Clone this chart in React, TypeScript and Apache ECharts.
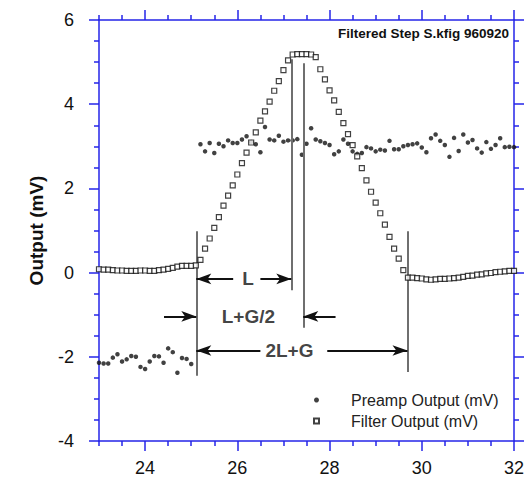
import React, { useEffect, useRef } from "react";
import * as echarts from "echarts";

// Sample times (µs)
const time = [
  23.0, 23.1, 23.2, 23.3, 23.4, 23.5, 23.6, 23.7, 23.8, 23.9,
  24.0, 24.1, 24.2, 24.3, 24.4, 24.5, 24.6, 24.7, 24.8, 24.9,
  25.0, 25.1, 25.2, 25.3, 25.4, 25.5, 25.6, 25.7, 25.8, 25.9,
  26.0, 26.1, 26.2, 26.3, 26.4, 26.5, 26.6, 26.7, 26.8, 26.9,
  27.0, 27.1, 27.2, 27.3, 27.4, 27.5, 27.6, 27.7, 27.8, 27.9,
  28.0, 28.1, 28.2, 28.3, 28.4, 28.5, 28.6, 28.7, 28.8, 28.9,
  29.0, 29.1, 29.2, 29.3, 29.4, 29.5, 29.6, 29.7, 29.8, 29.9,
  30.0, 30.1, 30.2, 30.3, 30.4, 30.5, 30.6, 30.7, 30.8, 30.9,
  31.0, 31.1, 31.2, 31.3, 31.4, 31.5, 31.6, 31.7, 31.8, 31.9,
  32.0,
];

const preampOutput: (number | null)[] = [
  -2.14, -2.16, -2.16, -2.02, -1.94, -2.11, -2.06, -1.98, -2.0, -2.24,
  -2.29, -2.11, -1.98, -1.99, -2.14, -1.8, -1.89, -2.38, -2.03, -2.05,
  -2.17, null, 3.05, 2.88, 3.08, 2.84, 3.06, 3.0, 3.14, 3.08,
  3.08, 3.16, 3.24, 3.1, 3.05, 2.86, 3.46, 3.16, 3.14, 3.25,
  3.11, 3.14, 3.14, 3.17, 2.8, 3.06, 3.43, 3.16, 3.12, 3.08,
  3.03, 2.81, 2.88, 3.16, 3.06, 2.88, 2.82, 2.84, 2.98, 2.95,
  2.88, 2.92, 2.9, 3.13, 2.93, 2.93, 3.0, 3.03, 3.05, 3.07,
  2.97, 2.86, 3.19, 3.28, 3.13, 3.03, 2.75, 3.2, 2.89, 3.28,
  3.09, 3.15, 2.95, 2.85, 3.1, 2.94, 3.03, 3.19, 2.98, 2.99,
  2.98,
];

const filterOutput = [
  0.08, 0.07, 0.07, 0.06, 0.05, 0.05, 0.04, 0.04, 0.04, 0.05,
  0.05, 0.04, 0.04, 0.06, 0.07, 0.09, 0.11, 0.14, 0.16, 0.16,
  0.16, 0.17, 0.3, 0.57, 0.81, 1.06, 1.32, 1.59, 1.83, 2.07,
  2.33, 2.6, 2.85, 3.09, 3.33, 3.61, 3.83, 4.06, 4.32, 4.55,
  4.81, 5.04, 5.18, 5.19, 5.19, 5.19, 5.18, 5.12, 4.83, 4.59,
  4.33, 4.09, 3.82, 3.55, 3.29, 3.03, 2.76, 2.48, 2.19, 1.92,
  1.66, 1.41, 1.14, 0.85, 0.57, 0.33, 0.06, -0.12, -0.12, -0.13,
  -0.14, -0.16, -0.17, -0.16, -0.15, -0.15, -0.14, -0.13, -0.12, -0.1,
  -0.08, -0.07, -0.05, -0.04, -0.02, -0.01, 0.01, 0.02, 0.03, 0.04,
  0.04,
];

const seriesNames = ["Preamp Output (mV)", "Filter Output (mV)"];
const titleText = "Filtered Step S.kfig 960920";
const yAxisTitle = "Output (mV)";

const xMajorTicks = [24, 26, 28, 30, 32];
const xMinorTicks = [23, 23.5, 24.5, 25, 25.5, 26.5, 27, 27.5, 28.5, 29, 29.5, 30.5, 31, 31.5];

// Vertical guide lines
const guideX = [25.11, 27.17, 27.43, 29.69];
const guideTop = [0.98, 5.07, 4.97, 0.98];
const guideBottom = [-2.45, -0.42, -1.31, -2.36];

// Dimension arrows
const arrowFromX = [25.91, 26.5, 24.41, 28.13, 26.5, 27.95];
const arrowToX = [25.11, 27.17, 25.11, 27.43, 25.11, 29.69];
const arrowY = [-0.15, -0.15, -1.04, -1.04, -1.85, -1.85];

// Dimension labels
const dimLabels = ["L", "L+G/2", "2L+G"];
const dimLabelX = [26.23, 26.24, 27.13];
const dimLabelY = [-0.15, -1.04, -1.85];

const AXIS_BLUE = "#2424e8";
const FONT = "'Liberation Sans', Arial, Helvetica, sans-serif";

export default function App() {
  const ref = useRef<HTMLDivElement>(null);

  useEffect(() => {
    document.body.style.margin = "0";
    const chart = echarts.init(ref.current!, null, { renderer: "svg" });

    const preampData = time
      .map((t, i) => [t, preampOutput[i]])
      .filter((d) => d[1] !== null);
    const filterData = time.map((t, i) => [t, filterOutput[i]]);

    const baseX = {
      type: "value",
      min: 23,
      max: 32,
      gridIndex: 0,
      splitLine: { show: false },
    };

    const option: any = {
      animation: false,
      backgroundColor: "#ffffff",
      textStyle: { fontFamily: FONT },
      title: {
        text: titleText,
        right: 14,
        top: 21,
        textStyle: { fontFamily: FONT, fontSize: 13.5, fontWeight: "bold", color: "#111" },
      },
      grid: { left: 99, right: 14, top: 20, bottom: 35, containLabel: false },
      legend: {
        data: seriesNames,
        orient: "vertical",
        left: 308,
        top: 387,
        itemWidth: 5,
        itemHeight: 5,
        itemGap: 5,
        selectedMode: false,
        textStyle: {
          fontFamily: FONT,
          fontSize: 16,
          lineHeight: 16,
          color: "#222",
          padding: [0, 0, 0, 27],
        },
      },
      xAxis: [
        {
          ...baseX,
          position: "bottom",
          axisLine: { show: true, onZero: false, lineStyle: { color: AXIS_BLUE, width: 1.5 } },
          axisTick: { show: true, customValues: xMajorTicks, length: 10, lineStyle: { color: AXIS_BLUE, width: 1.5 } },
          axisLabel: { show: true, customValues: xMajorTicks, fontSize: 18, color: "#111", margin: 18, fontFamily: FONT },
        },
        {
          ...baseX,
          position: "top",
          axisLine: { show: true, onZero: false, lineStyle: { color: AXIS_BLUE, width: 1.5 } },
          axisTick: { show: true, customValues: xMajorTicks, length: 10, lineStyle: { color: AXIS_BLUE, width: 1.5 } },
          axisLabel: { show: false },
        },
        {
          ...baseX,
          position: "bottom",
          axisLine: { show: false, onZero: false },
          axisTick: { show: true, customValues: xMinorTicks, length: 5, lineStyle: { color: AXIS_BLUE, width: 1.5 } },
          axisLabel: { show: false },
        },
        {
          ...baseX,
          position: "top",
          axisLine: { show: false, onZero: false },
          axisTick: { show: true, customValues: xMinorTicks, length: 5, lineStyle: { color: AXIS_BLUE, width: 1.5 } },
          axisLabel: { show: false },
        },
      ],
      yAxis: [
        {
          type: "value",
          position: "left",
          min: -4,
          max: 6,
          interval: 2,
          name: yAxisTitle,
          nameLocation: "middle",
          nameGap: 53,
          nameTextStyle: { fontFamily: FONT, fontSize: 19, fontWeight: "bold", color: "#111" },
          splitLine: { show: false },
          axisLine: { show: true, onZero: false, lineStyle: { color: AXIS_BLUE, width: 1.5 } },
          axisTick: { show: true, length: 10, lineStyle: { color: AXIS_BLUE, width: 1.5 } },
          minorTick: { show: true, splitNumber: 4, length: 5, lineStyle: { color: AXIS_BLUE, width: 1.5 } },
          axisLabel: { fontSize: 18, color: "#111", margin: 25, fontFamily: FONT },
        },
        {
          type: "value",
          position: "right",
          min: -4,
          max: 6,
          interval: 2,
          splitLine: { show: false },
          axisLine: { show: true, onZero: false, lineStyle: { color: AXIS_BLUE, width: 1.5 } },
          axisTick: { show: true, length: 10, lineStyle: { color: AXIS_BLUE, width: 1.5 } },
          minorTick: { show: true, splitNumber: 4, length: 5, lineStyle: { color: AXIS_BLUE, width: 1.5 } },
          axisLabel: { show: false },
        },
      ],
      series: [
        {
          name: "guides",
          type: "scatter",
          data: [],
          silent: true,
          z: 1,
          markLine: {
            silent: true,
            symbol: ["none", "none"],
            label: { show: false },
            lineStyle: { color: "#6f6f6f", width: 2, type: "solid" },
            emphasis: { disabled: true },
            data: guideX.map((x, i) => [
              { coord: [x, guideTop[i]] },
              { coord: [x, guideBottom[i]] },
            ]),
          },
        },
        {
          name: "arrows",
          type: "scatter",
          data: [],
          silent: true,
          z: 2,
          markLine: {
            silent: true,
            symbol: ["none", "arrow"],
            symbolSize: 12,
            label: { show: false },
            lineStyle: { color: "#111", width: 2, type: "solid" },
            itemStyle: { color: "#111" },
            emphasis: { disabled: true },
            data: arrowFromX.map((fx, i) => [
              { coord: [fx, arrowY[i]], symbol: "none" },
              { coord: [arrowToX[i], arrowY[i]], symbol: "arrow", symbolSize: [8, 15] },
            ]),
          },
        },
        {
          name: "dimLabels",
          type: "scatter",
          symbolSize: 0,
          silent: true,
          z: 3,
          data: dimLabels.map((t, i) => ({ name: t, value: [dimLabelX[i], dimLabelY[i]] })),
          label: {
            show: true,
            position: "inside",
            formatter: (p: any) => p.name,
            fontFamily: FONT,
            fontSize: 19,
            fontWeight: "bold",
            color: "#111",
          },
        },
        {
          name: seriesNames[0],
          type: "scatter",
          symbol: "circle",
          symbolSize: 4.5,
          itemStyle: { color: "#111" },
          z: 4,
          data: preampData,
        },
        {
          name: seriesNames[1],
          type: "scatter",
          symbol: "rect",
          symbolSize: 5,
          itemStyle: { color: "#ffffff", borderColor: "#111", borderWidth: 1.2 },
          z: 5,
          data: filterData,
        },
      ],
    };

    chart.setOption(option);
    return () => chart.dispose();
  }, []);

  return (
    <div
      ref={ref}
      style={{ position: "fixed", left: 0, top: 0, width: 528, height: 477 }}
    />
  );
}
